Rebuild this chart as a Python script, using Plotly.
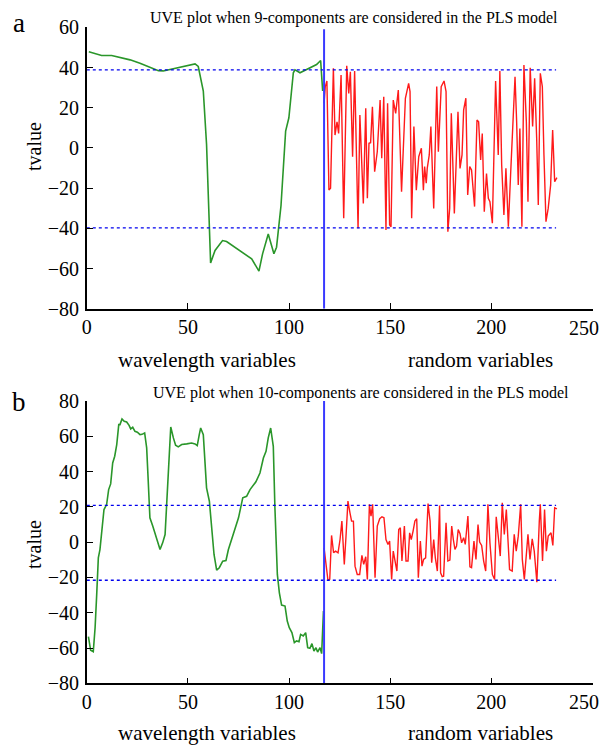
import plotly.graph_objects as go

# page body has an 8px margin, so the figure is drawn smaller and all pixel
# positions below are given in screen coordinates and shifted by OFF.
OFF = 8
W, H = 610 - OFF, 747 - OFF

# ---------------- panel a (9 components) ----------------
green_a_x = [1, 7.3, 12.3, 17, 21.4, 26.3, 31, 35.4, 37.8, 44.4, 49, 53.5, 55.1, 57.6, 59.2, 61.2,
             63.4, 67.1, 69.1, 74.1, 77.4, 81.5, 85.1, 86.9, 89.7, 92.5, 93.8, 96.0, 98.3, 99.9,
             102.1, 102.9, 105.4, 110.3, 113.6, 115.6, 116.6]
green_a_y = [47.8, 46, 46, 45, 43.8, 42.1, 40.2, 38.4, 38.3, 39.8, 40.7, 41.8, 40.5, 28.3, 1.8, -57.2,
             -51, -46.1, -46.6, -50.2, -52.7, -55.2, -61.3, -52.7, -42.8, -52.7, -49.4, -28.8, 8.4, 15,
             37.4, 38.8, 37.4, 39.8, 41.5, 43.5, 28.3]

red_a_x = [117.3, 117.9, 118.7, 119.7, 120.5, 121.9, 122.7, 123.7, 124.5, 125.7, 127.0, 128.5, 129.5,
           130.3, 131.4, 132.4, 134.1, 135.0, 136.7, 137.9, 138.7, 139.5, 140.3, 141.2, 142.3, 143.6,
           145.0, 145.8, 146.8, 147.9, 148.7, 149.7, 150.4, 151.5, 152.7, 154.0, 155.6, 157.5, 159.1,
           159.8, 160.6, 161.7, 162.9, 164.1, 165.4, 166.4, 167.0, 167.8, 168.3, 169.3, 170.1, 171.5,
           173.0, 173.8, 175.2, 176.6, 177.6, 178.5, 179.4, 180.2, 181.7, 183.5, 184.5, 185.5, 186.3,
           187.4, 188.3, 189.3, 190.2, 191.7, 192.9, 193.7, 194.7, 195.5, 196.5, 197.6, 198.5, 199.3,
           200.5, 202.1, 203.4, 204.2, 205.1, 206.2, 207.2, 208.4, 209.5, 210.5, 211.7, 212.5, 213.3,
           214.1, 215.1, 216.1, 217.3, 218.1, 219.2, 220.4, 221.4, 222.4, 223.2, 224.2, 225.2, 226.0,
           227.0, 228.1, 229.3, 230.3, 231.3, 232.4]
red_a_y = [22.2, 30.5, 33.3, -21, -20.1, 39.6, 6.4, 13.0, 7.2, 36.3, -35, 40.9, 27.1,
           37.9, -4.4, 38.3, -40, 16.4, -27.6, 19.7, -25.1, 2.3, 2.6, 20.5, -11.8, -1.9,
           23.8, -5.2, 25.5, -40.8, 22.2, -38.4, -39.2, 23.8, 17.2, 28.8, -21.8, 24.7, 32.1,
           28, -35, 10.6, -21, -4.4, -0.2, -21, -9.3, -17.6, -10.2, -3.5, 10.6, -30.1,
           30.5, -1.9, 30.5, 33.3, 28, -41.7, -30, 17.2, -32.6, 18, -10.2, -3.5, 18.9,
           24.7, -23.4, -9.3, -11, -29.2, 13.9, 13, -6, 7.2, -31.7, -12.7, -25.1, -26.8,
           -37.5, 33.3, -3.5, 38.3, -8.5, -33.4, -10.2, -39.2, -13.5, 12.2, 35.4, 13, -18.5,
           9.7, -39.2, 41.2, 13, -26.8, 39.9, 10.6, 34.6, 4.8, -28.4, 37.1, 30.5, -3.5,
           -36.7, -30.1, -18.5, 8.9, -16.8, -14.8]
thr_a = [38.8, -39.8]

# ---------------- panel b (10 components) ----------------
green_b_x = [0.8, 1.9, 3.2, 4.1, 4.9, 5.7, 6.5, 7.3, 8.5, 9.8, 10.8, 11.8, 12.8, 13.8, 14.8, 15.8, 16.4,
             17.4, 18.5, 19.7, 20.9, 21.7, 22.7, 23.8, 25, 26.3, 27.3, 28.6, 29.6, 30.3, 31.2, 32.6,
             33.7, 34.9, 36.2, 37.5, 38.7, 39.5, 40.3, 41.5, 42.8, 43.9, 45.2, 46.9, 49.4, 51.8, 53.5,
             54.6, 55.6, 56.3, 57.6, 58.4, 59.2, 60.6, 61.7, 62.9, 64.2, 65.5, 67.2, 68.8, 70, 71.6,
             73.3, 75, 77.1, 79, 80.7, 82, 83.6, 85.6, 87.3, 88.6, 89.7, 90.9, 92.2, 93, 94.2, 95.2,
             96.3, 98, 99.1, 100.1, 101.4, 102.6, 103.7, 104.9, 105.7, 107, 108.2, 109.2, 110.3,
             111.3, 112.3, 113.3, 114.1, 115.3, 116.1, 117]
green_b_y = [-53.6, -61.3, -62.1, -48.5, -29.6, -8.9, -4.2, 4.3, 18.5, 21.3, 29.8, 33, 44.9, 48.7, 55.3,
             66.6, 66.6, 69.8, 68.5, 68.1, 66.2, 64.2, 65.1, 62.8, 62.3, 60.9, 61.1, 61.9, 53.4, 36.4,
             13.8, 9.1, 4.3, 0.6, -4.2, -0.4, 4.3, 21.3, 44, 65.3, 59.1, 54.9, 54, 55.3, 55.7, 56.2,
             55.7, 54.7, 60.9, 64.7, 60.9, 45.8, 30.8, 23.2, 10, -7, -15.8, -14.5, -10.8, -10.4, -4.2,
             1.5, 7.2, 13.8, 25.1, 26, 29.8, 31.7, 34.2, 39.2, 47.7, 51.5, 59.1, 64.7, 54.3, 19.4,
             -18.3, -28.7, -35.7, -36.2, -44.7, -48.5, -51.3, -57, -56, -56.4, -52.3, -53.2, -51.3,
             -59.8, -60.2, -57.5, -61.7, -59.8, -62.3, -59.8, -63.2, -39]

red_b_x = [117.3, 118.2, 119.2, 120.1, 121.0, 122.0, 123.0, 124.2, 125.2, 126.1, 127.3, 128.1, 129.1,
           130.1, 130.9, 131.8, 132.6, 133.7, 134.9, 136.0, 136.9, 137.9, 138.7, 139.7, 140.5, 141.3,
           142.5, 143.6, 144.8, 145.9, 146.9, 147.9, 148.9, 149.7, 150.7, 151.5, 152.5, 153.3, 154.2,
           155.0, 155.8, 157.0, 157.8, 158.8, 159.6, 160.4, 161.3, 162.2, 163.1, 163.9, 164.9, 165.7,
           166.5, 167.5, 168.7, 169.7, 170.5, 171.5, 172.3, 173.3, 174.4, 174.9, 175.7, 176.4, 177.6,
           178.5, 179.5, 180.4, 181.2, 182.0, 182.8, 183.6, 184.5, 185.3, 186.3, 187.1, 188.4, 189.4,
           190.2, 191.4, 192.4, 193.4, 194.2, 195.2, 196.2, 197.2, 198.3, 199.3, 200.5, 201.6, 202.4,
           203.4, 204.4, 205.4, 206.4, 207.4, 208.2, 209.0, 210.3, 211.3, 212.3, 213.3, 214.5, 215.3,
           216.3, 217.1, 218.1, 219.1, 220.2, 221.2, 222.5, 223.7, 224.2, 225.3, 226.3, 227.2, 228.1,
           229.5, 230.4, 231.3, 232.4]
red_b_y = [-3.2, -10.7, -21.5, -21.1, 3.8, -6, -5.1, -6, 1.5, 11.9, -12.6, 2.5, 23.3,
           16.6, 11.9, 11.9, -13.6, -18.3, -18.3, -7.5, -12.6, -8.3, -21.1, 21.4, 14.8, 21.4,
           -20.2, 9.1, 13.3, 14.4, 13.8, 1.5, -1.3, 0.6, -21.1, -5.1, -10.7, -16.4, 7.2,
           8.1, -10.7, 9.1, -10.7, -10.7, 5.3, 1.5, 6.3, 11.9, 13.3, -20.2, 0.6, -13.6,
           -9.8, -8.9, 21.9, 11.9, -11.7, 1.5, -8.9, -16.4, 20.8, -17.4, -19.6, -19.3, 11,
           -10.7, -10.2, 9.1, 1.5, -4.1, -2.2, 7.2, 4.8, -0.4, 2.5, -1.3, 14.8, -14,
           -14.5, 0.6, -9.8, 10, 0, -1.9, -10.7, -16.4, 21.4, -0.4, -18.3, -21.1, 14.4,
           3.4, -7.9, 22.3, 4.4, 18.5, 1.5, -15.5, -16.4, 4.4, -5.1, 3.4, 21.4, -9.8,
           -21.1, -7.9, 4.4, -9.8, 1.9, -5.1, -22.7, 11.9, 21.4, -10.7, 18.5, -5.1, 3.4,
           5.3, -1.9, 19.5, 18.9]
thr_b = [20.8, -21.6]

split_x = 117.3
thr_x_range = [0, 232]
x_ticks = [0, 50, 100, 150, 200, 250]
x_ticktext = ["0", "50", "100", "150", "200", ""]   # last label drawn as annotation (kept inside page)
x_last_label = "250"
y_ticks_a = [-80, -60, -40, -20, 0, 20, 40, 60]
y_ticks_b = [-80, -60, -40, -20, 0, 20, 40, 60, 80]

title_a = "UVE plot when 9-components are considered in the PLS model"
title_b = "UVE plot when 10-components are considered in the PLS model"

FONT = "Liberation Serif"
GREEN = "#2a962a"
RED = "#ff1a1a"
BLUE = "#3a3aff"


def px(x):
    return (x - OFF) / W


def py(y):
    return 1 - (y - OFF) / H


fig = go.Figure()


def add_panel(xa, ya, gx, gy, rx, ry, thr, yr):
    fig.add_trace(go.Scatter(x=gx, y=gy, mode="lines", line=dict(color=GREEN, width=1.6),
                             xaxis=xa, yaxis=ya, showlegend=False))
    fig.add_trace(go.Scatter(x=rx, y=ry, mode="lines", line=dict(color=RED, width=1.4),
                             xaxis=xa, yaxis=ya, showlegend=False))
    for t in thr:
        fig.add_trace(go.Scatter(x=thr_x_range, y=[t, t], mode="lines",
                                 line=dict(color="#0000ee", width=1.3, dash="dot"),
                                 xaxis=xa, yaxis=ya, showlegend=False))
    fig.add_trace(go.Scatter(x=[split_x, split_x], y=yr, mode="lines",
                             line=dict(color=BLUE, width=2),
                             xaxis=xa, yaxis=ya, showlegend=False))


add_panel("x", "y", green_a_x, green_a_y, red_a_x, red_a_y, thr_a, [-80, 59])
add_panel("x2", "y2", green_b_x, green_b_y, red_b_x, red_b_y, thr_b, [-80, 80])

xdom = [px(86.8), px(592.5)]
axis_common = dict(showline=True, linecolor="black", linewidth=1.5, ticks="inside", ticklen=6,
                   tickwidth=1.2, tickcolor="black", showgrid=False, zeroline=False, mirror=False,
                   automargin=False,
                   tickfont=dict(family=FONT, size=20, color="black"))

fig.update_layout(
    template="none",
    width=W, height=H, autosize=False,
    margin=dict(l=0, r=0, t=0, b=0, pad=0),
    font=dict(family=FONT, color="black"),
    paper_bgcolor="white", plot_bgcolor="white",
    xaxis=dict(domain=xdom, range=[0, 250], tickvals=x_ticks, ticktext=x_ticktext, anchor="y",
               **axis_common),
    yaxis=dict(domain=[py(308.7), py(27.3)], range=[-80, 60], tickvals=y_ticks_a, anchor="x",
               ticklabelstandoff=2, **axis_common),
    xaxis2=dict(domain=xdom, range=[0, 250], tickvals=x_ticks, ticktext=x_ticktext, anchor="y2",
                **axis_common),
    yaxis2=dict(domain=[py(683.3), py(401)], range=[-80, 80], tickvals=y_ticks_b, anchor="x2",
                ticklabelstandoff=2, **axis_common),
)

# last x tick label, right-aligned so it stays inside the visible page
for xr, yr_ in [("x", "y"), ("x2", "y2")]:
    fig.add_annotation(text=x_last_label, x=x_ticks[-1], y=-80, xref=xr, yref=yr_,
                       showarrow=False, xanchor="right", yanchor="top", xshift=8, yshift=-6,
                       font=dict(family=FONT, size=20, color="black"))

annots = [
    dict(text=title_a, x=px(354), y=py(18), size=16),
    dict(text=title_b, x=px(361), y=py(393), size=16),
    dict(text="a", x=px(19), y=py(23), size=27),
    dict(text="b", x=px(19), y=py(402), size=27),
    dict(text="wavelength variables", x=px(207), y=py(360), size=21),
    dict(text="random variables", x=px(480), y=py(360), size=21),
    dict(text="wavelength variables", x=px(207), y=py(733), size=21),
    dict(text="random variables", x=px(480), y=py(733), size=21),
]
for a in annots:
    fig.add_annotation(text=a["text"], x=a["x"], y=a["y"], xref="paper", yref="paper",
                       showarrow=False, xanchor="center", yanchor="middle",
                       font=dict(family=FONT, size=a["size"], color="black"))
for yc in [147, 545]:
    fig.add_annotation(text="tvalue", x=px(34), y=py(yc), xref="paper", yref="paper",
                       showarrow=False, textangle=-90, xanchor="center", yanchor="middle",
                       font=dict(family=FONT, size=20, color="black"))

fig.write_html("out.html")
